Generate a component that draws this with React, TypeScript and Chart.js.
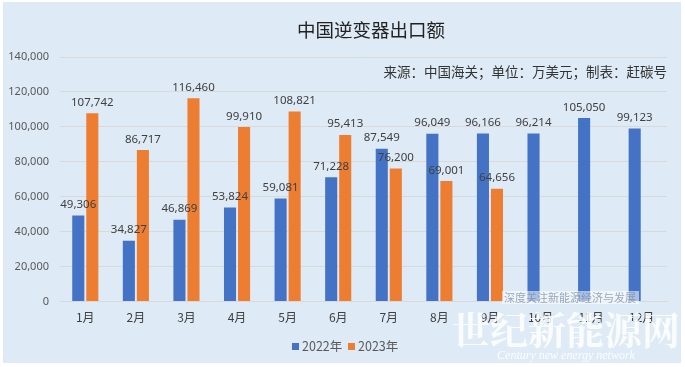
import React, { useEffect, useRef } from "react";
import { Chart, registerables } from "chart.js";

Chart.register(...registerables);

const months = ["1月", "2月", "3月", "4月", "5月", "6月", "7月", "8月", "9月", "10月", "11月", "12月"];
const series2022 = [49306, 34827, 46869, 53824, 59081, 71228, 87549, 96049, 96166, 96214, 105050, 99123];
const series2023 = [107742, 86717, 116460, 99910, 108821, 95413, 76200, 69001, 64656, null, null, null];
const yTicks = [0, 20000, 40000, 60000, 80000, 100000, 120000, 140000];
const seriesNames = ["2022年", "2023年"];
const seriesColors = ["#4472C4", "#ED7D31"];
const titleText = "中国逆变器出口额";
const noteText = "来源：中国海关；单位：万美元；制表：赶碳号";
const watermarkSmall = "深度关注新能源经济与发展";
const watermarkBig = "世纪新能源网";
const watermarkEn = "Century new energy network";

const FONT = '"Noto Sans", "Noto Sans CJK SC", sans-serif';
const CJK = '"Noto Sans CJK SC", "Noto Sans", sans-serif';

const fmt = (v: number) => v.toLocaleString("en-US");

const bgPlugin = {
  id: "bgPlugin",
  beforeDraw(chart: any) {
    const ctx = chart.ctx;
    ctx.save();
    ctx.fillStyle = "#ffffff";
    ctx.fillRect(0, 0, chart.width, chart.height);
    ctx.fillStyle = "#DEEAF6";
    ctx.fillRect(3, 2, 678, 361);
    ctx.restore();
  },
};

const labelsPlugin = {
  id: "labelsPlugin",
  afterDatasetsDraw(chart: any) {
    const ctx = chart.ctx;
    ctx.save();
    ctx.font = `11.5px ${FONT}`;
    ctx.fillStyle = "#404040";
    ctx.textAlign = "center";
    ctx.textBaseline = "bottom";
    chart.data.datasets.forEach((ds: any, i: number) => {
      const meta = chart.getDatasetMeta(i);
      meta.data.forEach((el: any, j: number) => {
        const v = ds.data[j];
        if (v == null) return;
        ctx.fillText(fmt(v), el.x, el.y - 5);
      });
    });
    // title
    ctx.font = `18.5px ${CJK}`;
    ctx.fillStyle = "#222222";
    ctx.textAlign = "center";
    ctx.textBaseline = "middle";
    ctx.fillText(titleText, 371, 30);
    // note
    ctx.font = `13.5px ${CJK}`;
    ctx.fillStyle = "#333333";
    ctx.textAlign = "right";
    ctx.fillText(noteText, chart.chartArea.right, 72);
    // legend
    ctx.font = `12.5px ${CJK}`;
    ctx.textAlign = "left";
    const legendX = [292, 348];
    seriesNames.forEach((name, i) => {
      ctx.fillStyle = seriesColors[i];
      ctx.fillRect(legendX[i], 343, 7, 7);
      ctx.fillStyle = "#595959";
      ctx.fillText(name, legendX[i] + 10, 346.5);
    });
    ctx.restore();
  },
  afterDraw(chart: any) {
    const ctx = chart.ctx;
    ctx.save();
    // small watermark box
    ctx.fillStyle = "rgba(255,255,255,0.55)";
    ctx.fillRect(502, 291, 137, 13);
    ctx.font = `11px ${CJK}`;
    ctx.fillStyle = "rgba(120,140,170,0.75)";
    ctx.textAlign = "left";
    ctx.textBaseline = "middle";
    ctx.fillText(watermarkSmall, 504, 298);
    // big watermark
    ctx.font = `bold 38px "Noto Serif CJK SC", ${CJK}`;
    ctx.fillStyle = "rgba(255,255,255,0.85)";
    ctx.textAlign = "center";
    ctx.fillText(watermarkBig, 566, 330);
    ctx.font = `italic 12px "Liberation Serif", serif`;
    ctx.fillStyle = "rgba(255,255,255,0.9)";
    ctx.fillText(watermarkEn, 566, 356);
    ctx.restore();
  },
};

export default function App() {
  const ref = useRef<HTMLCanvasElement>(null);
  useEffect(() => {
    document.body.style.margin = "0";
    const chart = new Chart(ref.current!, {
      type: "bar",
      data: {
        labels: months,
        datasets: seriesNames.map((name, i) => ({
          label: name,
          data: (i === 0 ? series2022 : series2023) as any,
          backgroundColor: seriesColors[i],
          barPercentage: 0.86,
          categoryPercentage: 0.555,
        })),
      },
      options: {
        responsive: false,
        animation: false,
        layout: { padding: { left: 0, right: 18, top: 57, bottom: 33 } },
        plugins: {
          title: { display: false },
          tooltip: { enabled: false },
          legend: { display: false },
        },
        scales: {
          x: {
            grid: { display: false, drawTicks: false },
            border: { display: true, color: "#D9D9D9" },
            ticks: { color: "#404040", font: { family: CJK, size: 12 }, padding: 9 },
          },
          y: {
            min: 0,
            max: 140000,
            afterBuildTicks: (axis: any) => {
              axis.ticks = yTicks.map((v) => ({ value: v }));
            },
            afterFit: (axis: any) => {
              axis.width = 60;
            },
            grid: { color: "#D9D9D9", drawTicks: false },
            border: { display: false },
            ticks: {
              color: "#595959",
              font: { family: FONT, size: 11 },
              padding: 11,
              callback: (v: any) => fmt(Number(v)),
            },
          },
        },
      },
      plugins: [bgPlugin, labelsPlugin],
    });
    return () => chart.destroy();
  }, []);
  return <canvas ref={ref} width={685} height={367} style={{ display: "block" }} />;
}
